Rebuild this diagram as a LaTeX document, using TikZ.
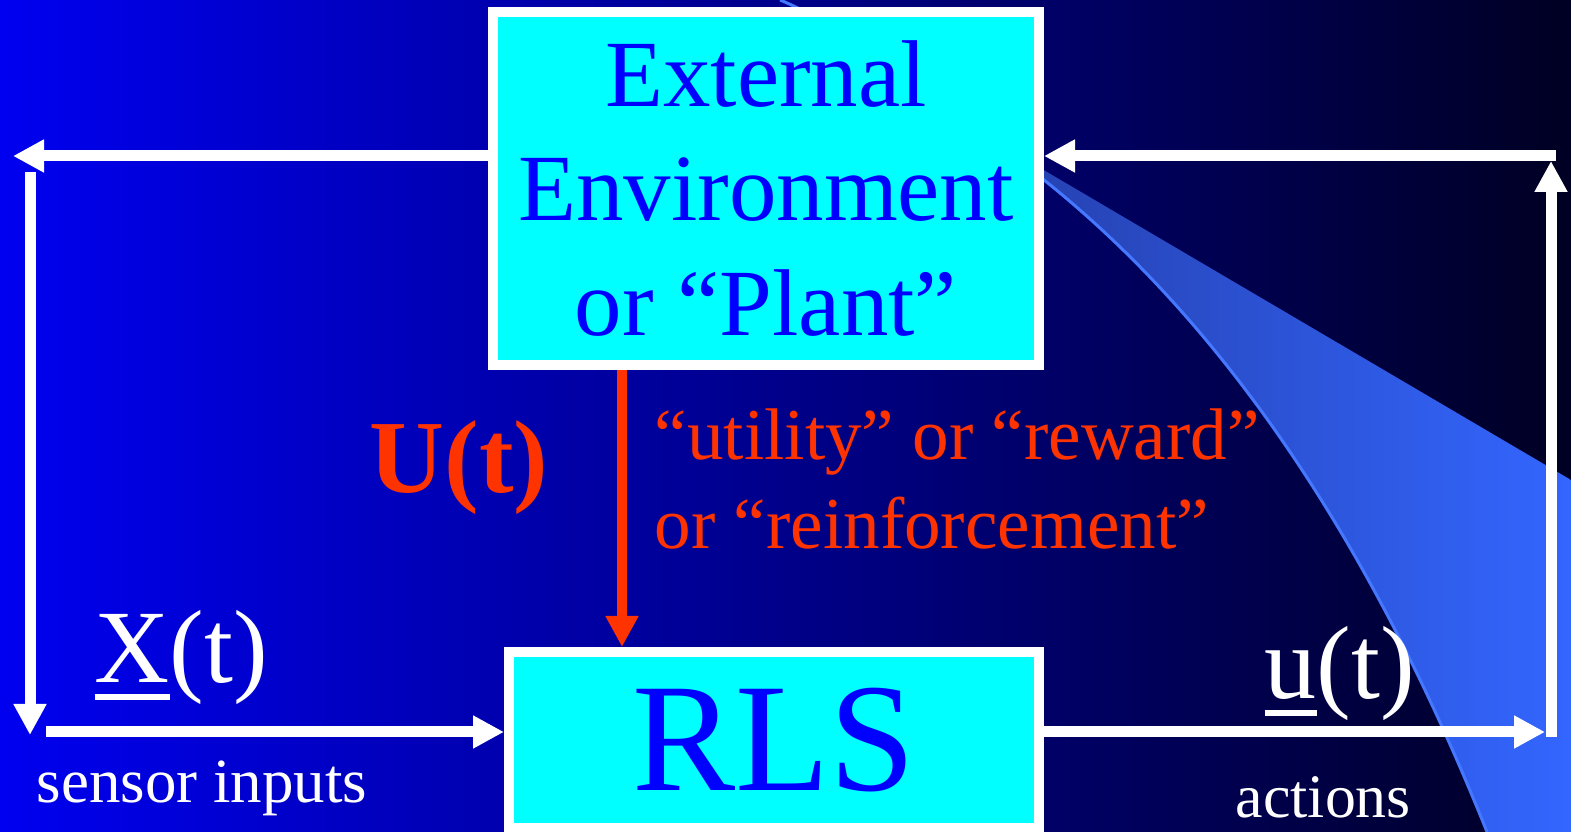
\documentclass[tikz,border=0pt]{standalone}
\usepackage{fontspec}
\setmainfont{Liberation Serif}
\usetikzlibrary{arrows.meta,positioning}

\definecolor{bgleft}{RGB}{0,0,240}
\definecolor{bgmid}{RGB}{0,0,155}
\definecolor{bgright}{RGB}{0,0,35}
\definecolor{boxcyan}{RGB}{0,255,255}
\definecolor{boxtext}{RGB}{0,0,255}
\definecolor{rewardred}{RGB}{255,51,0}
\definecolor{swoopdark}{RGB}{38,66,178}
\definecolor{swooplight}{RGB}{51,102,255}
\definecolor{swoopedge}{RGB}{70,120,255}

% underlined symbol with a heavy bar
\newcommand{\ulsym}[1]{\setbox0\hbox{#1}\rlap{\rule[-1.7mm]{\wd0}{0.6mm}}#1}

\begin{document}
\begin{tikzpicture}[
    blockbox/.style={draw=white, line width=1mm, fill=boxcyan, text=boxtext, inner sep=0pt},
    sigarrow/.style={white, line width=1.1mm, -{Triangle[length=3.1mm,width=3.1mm]}},
    siglabel/.style={text=white, anchor=base west, inner sep=0pt}
]
    \useasboundingbox (0,0) rectangle (15.71,8.32);
    % Background
    \shade[left color=bgleft, middle color=bgmid, right color=bgright] (0,0) rectangle (15.71,8.32);
    % Swoosh on the right
    \shade[left color=swoopdark, right color=swooplight]
        (10.30,6.70) -- (15.71,3.52) -- (15.71,0) -- (14.87,0)
        .. controls (13.70,2.92) and (12.23,5.09) .. (10.44,6.52) -- cycle;
    \draw[swoopedge, line width=0.3mm] (7.80,8.32) .. controls (8.32,8.11) and (9.20,7.51) .. (10.44,6.52)
        .. controls (12.23,5.09) and (13.70,2.92) .. (14.87,0);
    % Blocks
    \node[blockbox, minimum width=5.46cm, minimum height=3.53cm, align=center,
          font=\fontsize{27pt}{32.7pt}\selectfont] (env) at (7.66,6.435) {External\\Environment\\or ``Plant''};
    \node[blockbox, minimum width=5.30cm, minimum height=1.76cm,
          font=\fontsize{44pt}{50pt}\selectfont] (rls) at (7.74,0.92) {RLS};
    % Reward signal
    \coordinate (rwx) at (6.22,0);
    \draw[rewardred, line width=1mm, -{Triangle[length=3.1mm,width=3.1mm]}] (env.south -| rwx) -- (rls.north -| rwx);
    \node[text=rewardred, font=\bfseries\fontsize{29.5pt}{35pt}\selectfont, anchor=base] (utag) at (4.59,3.39) {U(t)};
    \node[text=rewardred, font=\fontsize{20.8pt}{25.6pt}\selectfont, align=left, anchor=base west, inner sep=0pt] (rwtext) at (6.54,2.83) {``utility'' or ``reward''\\or ``reinforcement''};
    % Sensor loop (left)
    \coordinate (sensetop) at (0.13,6.76);
    \coordinate (senseup) at (0.30,6.60);
    \coordinate (sensedown) at (0.30,0.97);
    \coordinate (sensein) at (0.46,1.00);
    \draw[sigarrow] (env.west |- sensetop) -- (sensetop);
    \draw[sigarrow] (senseup) -- (sensedown);
    \draw[sigarrow] (sensein) -- (rls.west |- sensein);
    \node[siglabel, font=\fontsize{29.6pt}{35pt}\selectfont] (xlab) at (0.94,1.49) {\ulsym{X}(t)};
    \node[siglabel, font=\fontsize{17.9pt}{21pt}\selectfont] (sensor) at (0.36,0.29) {sensor inputs};
    % Action loop (right)
    \coordinate (actout) at (15.45,1.00);
    \coordinate (actlow) at (15.51,0.95);
    \coordinate (acthigh) at (15.51,6.71);
    \coordinate (actback) at (15.56,6.76);
    \draw[sigarrow] (rls.east |- actout) -- (actout);
    \draw[sigarrow] (actlow) -- (acthigh);
    \draw[sigarrow] (actback) -- (env.east |- actback);
    \node[siglabel, font=\fontsize{29.6pt}{35pt}\selectfont] (ulab) at (12.64,1.33) {\ulsym{u}(t)};
    \node[siglabel, font=\fontsize{17.6pt}{21pt}\selectfont] (actions) at (12.35,0.14) {actions};
\end{tikzpicture}
\end{document}
